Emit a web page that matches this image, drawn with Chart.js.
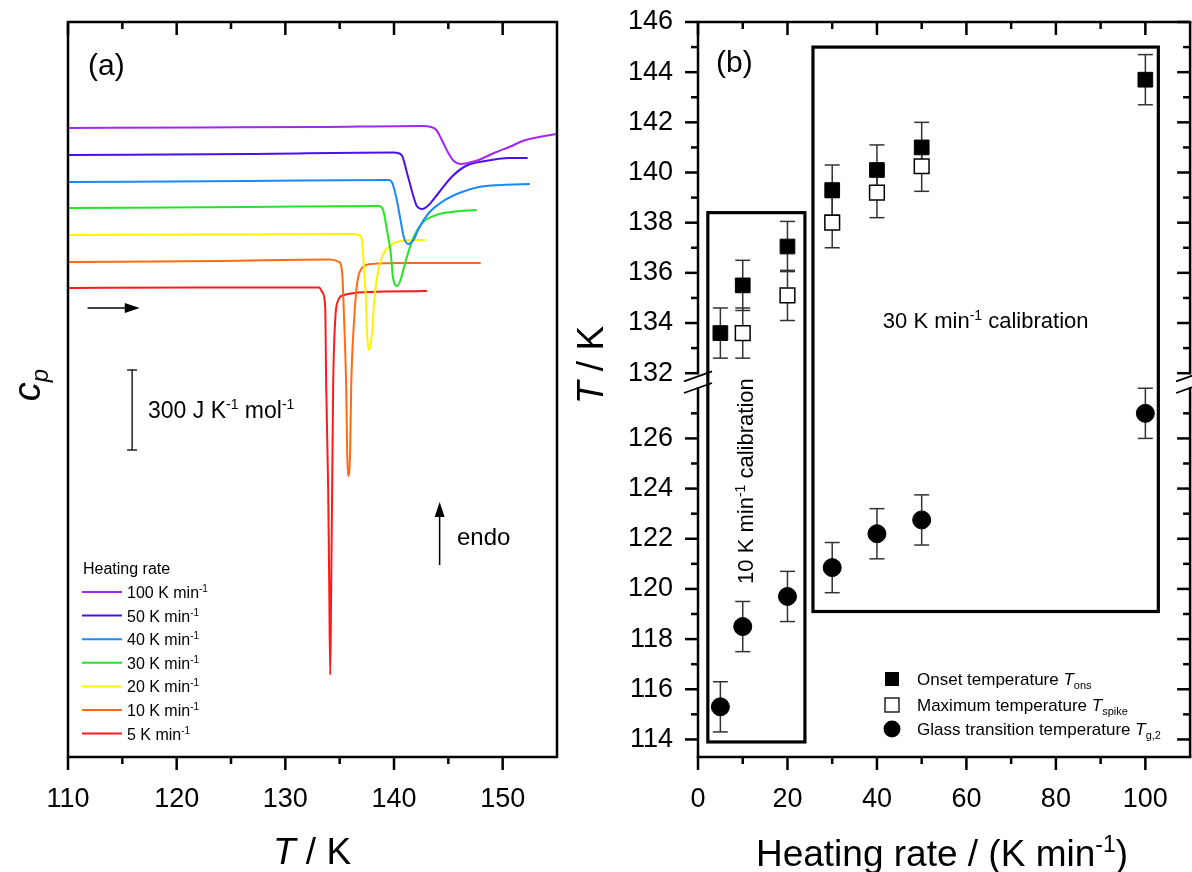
<!DOCTYPE html>
<html>
<head>
<meta charset="utf-8">
<script src="https://cdn.jsdelivr.net/npm/chart.js@4.4.1/dist/chart.umd.min.js"></script>
<style>
html, body { margin: 0; padding: 0; background: #fff; }
#wrap { position: relative; width: 1192px; height: 872px; overflow: hidden; }
#boxA { position: absolute; left: 0; top: 0; width: 560px; height: 872px; }
#boxB { position: absolute; left: 560px; top: 0; width: 642px; height: 872px; }
</style>
</head>
<body>
<div id="wrap">
  <div id="boxA"><canvas id="cpChart"></canvas></div>
  <div id="boxB"><canvas id="rateChart"></canvas></div>
</div>
<script>
const FONT = '"Liberation Sans", Arial, Helvetica, sans-serif';

// (a) cp scans, curves offset vertically (arbitrary units, 80 units = 300 J/K/mol)
const rateNames = ['100', '50', '40', '30', '20', '10', '5'];
const rateColors = ['#a326f2', '#4a12e8', '#1a88ff', '#22e622', '#fff200', '#ff6b14', '#ff1a1a'];

const T100 = [110, 122, 133, 142.6, 143.4, 143.9, 144.4, 145.0, 145.5, 146.1, 146.8, 147.8, 149.2, 150.6, 152.1, 153.6, 155];
const cp100 = [629, 629.5, 630, 631, 630, 627, 617, 604, 596, 593, 594, 597, 604, 610, 617, 620.5, 623];
const T50 = [110, 126.7, 140.0, 140.7, 141.2, 141.7, 142.1, 142.6, 143.2, 144.1, 145.3, 146.6, 148.4, 150.6, 152.3];
const cp50 = [602, 603, 604.5, 602, 584, 564, 551, 548, 552, 564, 580, 591, 596, 599, 599];
const T40 = [110, 126.5, 139.5, 139.8, 140.2, 140.6, 140.9, 141.3, 141.8, 142.3, 143.2, 144.4, 146.0, 147.8, 149.9, 152.5];
const cp40 = [575, 576, 577, 575, 560, 537, 520, 513, 517, 529, 544, 555, 564, 570, 572, 573];
const T30 = [110, 126.5, 138.6, 139.0, 139.3, 139.7, 139.9, 140.3, 140.6, 141.1, 141.7, 142.6, 143.9, 145.3, 147.6];
const cp30 = [549, 550, 551, 547, 530, 504, 480, 471, 477, 497, 517, 534, 542, 545, 547];
const T20 = [110, 125, 136.05, 136.8, 137.05, 137.25, 137.43, 137.52, 137.71, 137.98, 138.17, 138.44, 138.9, 139.72, 140.73, 142.84];
const cp20 = [522, 522.5, 523, 522, 517, 487, 454, 424, 407, 424, 454, 480, 500, 512, 516, 517];
const T10 = [110, 124, 134.04, 134.95, 135.23, 135.41, 135.60, 135.69, 135.78, 135.96, 136.06, 136.33, 136.61, 137.06, 137.98, 140.73, 147.98];
const cp10 = [495, 496, 497.5, 495, 484, 437, 370, 304, 281, 304, 370, 437, 474, 489, 493, 494, 494];
const T5 = [110, 122, 133.12, 133.39, 133.67, 133.76, 133.94, 134.04, 134.13, 134.22, 134.31, 134.40, 134.59, 134.77, 135.41, 137.71, 143.03];
const cp5 = [469, 469.5, 469.5, 465, 450, 370, 270, 170, 82, 170, 270, 370, 437, 454, 462, 465, 466];

const curveT = [T100, T50, T40, T30, T20, T10, T5];
const curveCp = [cp100, cp50, cp40, cp30, cp20, cp10, cp5];
const xTicksA = [110, 120, 130, 140, 150];
const xMinorA = [115, 125, 135, 145];

// (b) characteristic temperatures vs heating rate
const rates = [5, 10, 20, 30, 40, 50, 100];
const tOnset = [133.6, 135.5, 137.05, 139.3, 140.1, 141.0, 143.7];
const onsetErr = [1, 1, 1, 1, 1, 1, 1];
const spikeRates = [10, 20, 30, 40, 50];
const tSpike = [133.6, 135.1, 138.0, 139.2, 140.25];
const spikeErr = [1, 1, 1, 1, 1];
const tGlass = [115.3, 118.5, 119.7, 120.85, 122.2, 122.75, 127.0];
const glassErr = [1, 1, 1, 1, 1, 1, 1];

const xTicksB = [0, 20, 40, 60, 80, 100];
const xMinorB = [10, 30, 50, 70, 90];
const upperRange = [131.7, 146];
const lowerRange = [113.3, 128.3];
const yTicksHi = [132, 134, 136, 138, 140, 142, 144, 146];
const yMinorHi = [133, 135, 137, 139, 141, 143, 145];
const yTicksLo = [114, 116, 118, 120, 122, 124, 126];
const yMinorLo = [115, 117, 119, 121, 123, 125, 127];

// annotation positions in data units
const notesA = {
  scaleBar: { t: 115.9, lo: 307, hi: 387 },
  rightArrow: { t0: 111.8, t1: 116.6, cp: 449 },
  endoArrow: { t: 144.2, cp0: 192, cp1: 255 }
};
const calBoxes = [
  { x0: 2.2, x1: 23.9, top: 138.4, bottom: 113.9 },
  { x0: 25.7, x1: 102.9, top: 145.0, bottom: 119.1 }
];

function rich(ctx, segs, x, y, size, align) {
  const small = k => k === 'sup' || k === 'sub' || k === 'isub';
  const fontFor = k => (k === 'i' || k === 'isub' ? 'italic ' : '') +
    Math.round(small(k) ? size * 0.62 : size) + 'px ' + FONT;
  let w = 0;
  segs.forEach(s => { ctx.font = fontFor(s[1]); w += ctx.measureText(s[0]).width; });
  let cx = align === 'center' ? x - w / 2 : (align === 'right' ? x - w : x);
  ctx.textAlign = 'left';
  ctx.textBaseline = 'alphabetic';
  ctx.fillStyle = '#000';
  segs.forEach(s => {
    ctx.font = fontFor(s[1]);
    const dy = s[1] === 'sup' ? -size * 0.38 : (s[1] === 'sub' || s[1] === 'isub' ? size * 0.22 : 0);
    ctx.fillText(s[0], cx, y + dy);
    cx += ctx.measureText(s[0]).width;
  });
}

function line(ctx, x0, y0, x1, y1) {
  ctx.beginPath();
  ctx.moveTo(x0, y0);
  ctx.lineTo(x1, y1);
  ctx.stroke();
}

function arrowHead(ctx, x, y, ang) {
  ctx.save();
  ctx.translate(x, y);
  ctx.rotate(ang);
  ctx.beginPath();
  ctx.moveTo(0, 0);
  ctx.lineTo(-15, -5);
  ctx.lineTo(-15, 5);
  ctx.closePath();
  ctx.fill();
  ctx.restore();
}

// hidden tick marks so the label offset does not count as scale padding
const hiddenGrid = len => ({ display: true, color: 'rgba(0,0,0,0)', drawOnChartArea: false, drawTicks: true, tickLength: len });

const panelA = {
  id: 'panelA',
  afterDraw(chart) {
    const ctx = chart.ctx;
    const a = chart.chartArea;
    const sx = chart.scales.x, sy = chart.scales.y;
    ctx.save();
    ctx.strokeStyle = '#000';
    ctx.fillStyle = '#000';
    ctx.lineWidth = 2.5;
    ctx.strokeRect(a.left, a.top, a.right - a.left, a.bottom - a.top);
    xTicksA.concat(xMinorA).forEach(v => {
      const px = sx.getPixelForValue(v);
      const len = xTicksA.includes(v) ? 13 : 7;
      line(ctx, px, a.bottom, px, a.bottom + len);
      line(ctx, px, a.top, px, a.top + len);
    });

    // scale bar
    ctx.lineWidth = 1.3;
    const bx = sx.getPixelForValue(notesA.scaleBar.t);
    const b0 = sy.getPixelForValue(notesA.scaleBar.lo), b1 = sy.getPixelForValue(notesA.scaleBar.hi);
    line(ctx, bx, b0, bx, b1);
    line(ctx, bx - 5, b0, bx + 5, b0);
    line(ctx, bx - 5, b1, bx + 5, b1);
    rich(ctx, [['300 J K', 'n'], ['-1', 'sup'], [' mol', 'n'], ['-1', 'sup']], 148, 418, 23, 'left');

    // arrows
    ctx.lineWidth = 1.5;
    const r = notesA.rightArrow;
    const ax0 = sx.getPixelForValue(r.t0), ax1 = sx.getPixelForValue(r.t1), ay = sy.getPixelForValue(r.cp);
    line(ctx, ax0, ay, ax1 - 10, ay);
    arrowHead(ctx, ax1, ay, 0);
    const e = notesA.endoArrow;
    const ex = sx.getPixelForValue(e.t), ey0 = sy.getPixelForValue(e.cp0), ey1 = sy.getPixelForValue(e.cp1);
    line(ctx, ex, ey0, ex, ey1 + 10);
    arrowHead(ctx, ex, ey1, -Math.PI / 2);
    rich(ctx, [['endo', 'n']], 457, 545, 24, 'left');

    // panel label and titles
    rich(ctx, [['(a)', 'n']], 88, 75, 30, 'left');
    rich(ctx, [['T', 'i'], [' / K', 'n']], 312, 864, 37, 'center');
    ctx.save();
    ctx.translate(40, 385);
    ctx.rotate(-Math.PI / 2);
    rich(ctx, [['c', 'i'], ['p', 'isub']], 0, 0, 38, 'center');
    ctx.restore();

    // legend
    rich(ctx, [['Heating rate', 'n']], 83, 574, 16, 'left');
    ctx.lineWidth = 2;
    rateNames.forEach((n, i) => {
      const yy = 592 + i * 23.6;
      ctx.strokeStyle = rateColors[i];
      line(ctx, 82, yy, 122, yy);
      rich(ctx, [[n + ' K min', 'n'], ['-1', 'sup']], 127, yy + 6, 16, 'left');
    });
    ctx.restore();
  }
};

new Chart(document.getElementById('cpChart'), {
  type: 'scatter',
  data: {
    datasets: curveT.map((ts, k) => ({
      label: rateNames[k] + ' K min-1',
      data: ts.map((t, i) => ({ x: t, y: curveCp[k][i] })),
      showLine: true,
      borderColor: rateColors[k],
      backgroundColor: rateColors[k],
      borderWidth: 2,
      pointRadius: 0,
      cubicInterpolationMode: 'monotone'
    }))
  },
  options: {
    responsive: true,
    maintainAspectRatio: false,
    animation: false,
    layout: { padding: { left: 68, right: 3, top: 22, bottom: 0 } },
    plugins: { legend: { display: false }, tooltip: { enabled: false } },
    scales: {
      x: {
        type: 'linear', min: 110, max: 155,
        ticks: { stepSize: 10, includeBounds: false, autoSkip: false, maxRotation: 0, padding: 2, color: '#000',
          font: { family: FONT, size: 27 }, callback: v => (xTicksA.includes(v) ? String(v) : '') },
        grid: hiddenGrid(24),
        border: { display: false },
        afterFit: s => { s.height = 115; }
      },
      y: { display: false, min: 0, max: 735 }
    }
  },
  plugins: [panelA]
});

const errSets = [onsetErr, spikeErr, glassErr];

function breakMarks(ctx, x, y0, y1) {
  line(ctx, x - 14, y0 + 5, x + 14, y0 - 5);
  line(ctx, x - 14, y1 + 5, x + 14, y1 - 5);
}

const panelB = {
  id: 'panelB',
  beforeDatasetsDraw(chart) {
    const ctx = chart.ctx;
    const sx = chart.scales.x;
    ctx.save();
    ctx.strokeStyle = '#333';
    ctx.lineWidth = 1.5;
    chart.data.datasets.forEach((ds, k) => {
      const sy = chart.scales[ds.yAxisID];
      ds.data.forEach((p, i) => {
        const px = sx.getPixelForValue(p.x);
        const t = sy.getPixelForValue(p.y + errSets[k][i]);
        const b = sy.getPixelForValue(p.y - errSets[k][i]);
        line(ctx, px, t, px, b);
        line(ctx, px - 7.5, t, px + 7.5, t);
        line(ctx, px - 7.5, b, px + 7.5, b);
      });
    });
    ctx.restore();
  },
  afterDraw(chart) {
    const ctx = chart.ctx;
    const a = chart.chartArea;
    const sx = chart.scales.x, hi = chart.scales.yHi, lo = chart.scales.yLo;
    ctx.save();
    ctx.strokeStyle = '#000';
    ctx.fillStyle = '#000';
    ctx.lineWidth = 2.5;
    const gapTop = hi.getPixelForValue(131.95), gapBot = lo.getPixelForValue(128.05);
    line(ctx, a.left - 1.25, a.bottom, a.right + 1.25, a.bottom);
    line(ctx, a.left - 1.25, a.top, a.right + 1.25, a.top);
    [a.left, a.right].forEach(xx => {
      line(ctx, xx, a.top, xx, gapTop);
      line(ctx, xx, gapBot, xx, a.bottom);
    });
    xTicksB.concat(xMinorB).forEach(v => {
      const px = sx.getPixelForValue(v);
      const len = xTicksB.includes(v) ? 13 : 7;
      line(ctx, px, a.bottom, px, a.bottom + len);
      line(ctx, px, a.top, px, a.top + len);
    });
    [[hi, yTicksHi, yMinorHi], [lo, yTicksLo, yMinorLo]].forEach(([s, maj, mnr]) => {
      maj.concat(mnr).forEach(v => {
        const py = s.getPixelForValue(v);
        const len = maj.includes(v) ? 13 : 7;
        line(ctx, a.left - len, py, a.left, py);
        line(ctx, a.right - len, py, a.right, py);
      });
    });
    ctx.lineWidth = 1.8;
    breakMarks(ctx, a.left, gapTop + 2, gapBot + 1);
    breakMarks(ctx, a.right, gapTop + 2, gapBot + 1);

    // calibration boxes
    ctx.lineWidth = 3.2;
    calBoxes.forEach(bx => {
      const x0 = sx.getPixelForValue(bx.x0), x1 = sx.getPixelForValue(bx.x1);
      const y0 = hi.getPixelForValue(bx.top), y1 = lo.getPixelForValue(bx.bottom);
      ctx.strokeRect(x0, y0, x1 - x0, y1 - y0);
    });
    const c2 = calBoxes[1];
    rich(ctx, [['30 K min', 'n'], ['-1', 'sup'], [' calibration', 'n']],
      (sx.getPixelForValue(c2.x0) + sx.getPixelForValue(c2.x1)) / 2, hi.getPixelForValue(134.12) + 8, 22, 'center');
    ctx.save();
    ctx.translate(sx.getPixelForValue(10.5) + 8, lo.getPixelForValue(124.3));
    ctx.rotate(-Math.PI / 2);
    rich(ctx, [['10 K min', 'n'], ['-1', 'sup'], [' calibration', 'n']], 0, 0, 22, 'center');
    ctx.restore();

    // labels and titles
    rich(ctx, [['(b)', 'n']], 156, 72, 30, 'left');
    rich(ctx, [['Heating rate / (K min', 'n'], ['-1', 'sup'], [')', 'n']], 382, 866, 37, 'center');
    ctx.save();
    ctx.translate(43, 365);
    ctx.rotate(-Math.PI / 2);
    rich(ctx, [['T', 'i'], [' / K', 'n']], 0, 0, 37, 'center');
    ctx.restore();

    // legend
    const lx = 332, tx = 357;
    const rows = [679, 705, 729];
    ctx.lineWidth = 1.3;
    ctx.fillRect(lx - 7, rows[0] - 7, 14, 14);
    ctx.strokeRect(lx - 7, rows[1] - 7, 14, 14);
    ctx.beginPath();
    ctx.arc(lx, rows[2], 8.5, 0, Math.PI * 2);
    ctx.fill();
    rich(ctx, [['Onset temperature ', 'n'], ['T', 'i'], ['ons', 'sub']], tx, rows[0] + 6, 17, 'left');
    rich(ctx, [['Maximum temperature ', 'n'], ['T', 'i'], ['spike', 'sub']], tx, rows[1] + 6, 17, 'left');
    rich(ctx, [['Glass transition temperature ', 'n'], ['T', 'i'], ['g,2', 'sub']], tx, rows[2] + 6, 17, 'left');
    ctx.restore();
  }
};

const yTickOpts = list => ({
  stepSize: 2, includeBounds: false, autoSkip: false, padding: 3, color: '#000', font: { family: FONT, size: 27 },
  callback: v => (list.includes(v) ? String(v) : '')
});

new Chart(document.getElementById('rateChart'), {
  type: 'scatter',
  data: {
    datasets: [
      { label: 'Onset temperature', data: rates.map((r, i) => ({ x: r, y: tOnset[i] })), yAxisID: 'yHi',
        pointStyle: 'rect', pointRadius: 10.4, backgroundColor: '#000', borderColor: '#000', borderWidth: 1 },
      { label: 'Maximum temperature', data: spikeRates.map((r, i) => ({ x: r, y: tSpike[i] })), yAxisID: 'yHi',
        pointStyle: 'rect', pointRadius: 10.4, backgroundColor: '#fff', borderColor: '#000', borderWidth: 1.5 },
      { label: 'Glass transition temperature', data: rates.map((r, i) => ({ x: r, y: tGlass[i] })), yAxisID: 'yLo',
        pointStyle: 'circle', pointRadius: 9, backgroundColor: '#000', borderColor: '#000', borderWidth: 1 }
    ]
  },
  options: {
    responsive: true,
    maintainAspectRatio: false,
    animation: false,
    layout: { padding: { left: 0, right: 2, top: 22, bottom: 0 } },
    plugins: { legend: { display: false }, tooltip: { enabled: false } },
    scales: {
      x: {
        type: 'linear', min: 0, max: 110,
        ticks: { stepSize: 20, includeBounds: false, autoSkip: false, maxRotation: 0, padding: 2, color: '#000',
          font: { family: FONT, size: 27 }, callback: v => (xTicksB.includes(v) ? String(v) : '') },
        grid: hiddenGrid(24),
        border: { display: false },
        afterFit: s => { s.height = 115; }
      },
      yLo: {
        type: 'linear', position: 'left', stack: 'temp', stackWeight: lowerRange[1] - lowerRange[0],
        min: lowerRange[0], max: lowerRange[1],
        ticks: yTickOpts(yTicksLo),
        grid: hiddenGrid(22), border: { display: false },
        afterFit: s => { s.width = 138; }
      },
      yHi: {
        type: 'linear', position: 'left', stack: 'temp', stackWeight: upperRange[1] - upperRange[0],
        min: upperRange[0], max: upperRange[1],
        ticks: yTickOpts(yTicksHi),
        grid: hiddenGrid(22), border: { display: false },
        afterFit: s => { s.width = 138; }
      }
    }
  },
  plugins: [panelB]
});
</script>
</body>
</html>
